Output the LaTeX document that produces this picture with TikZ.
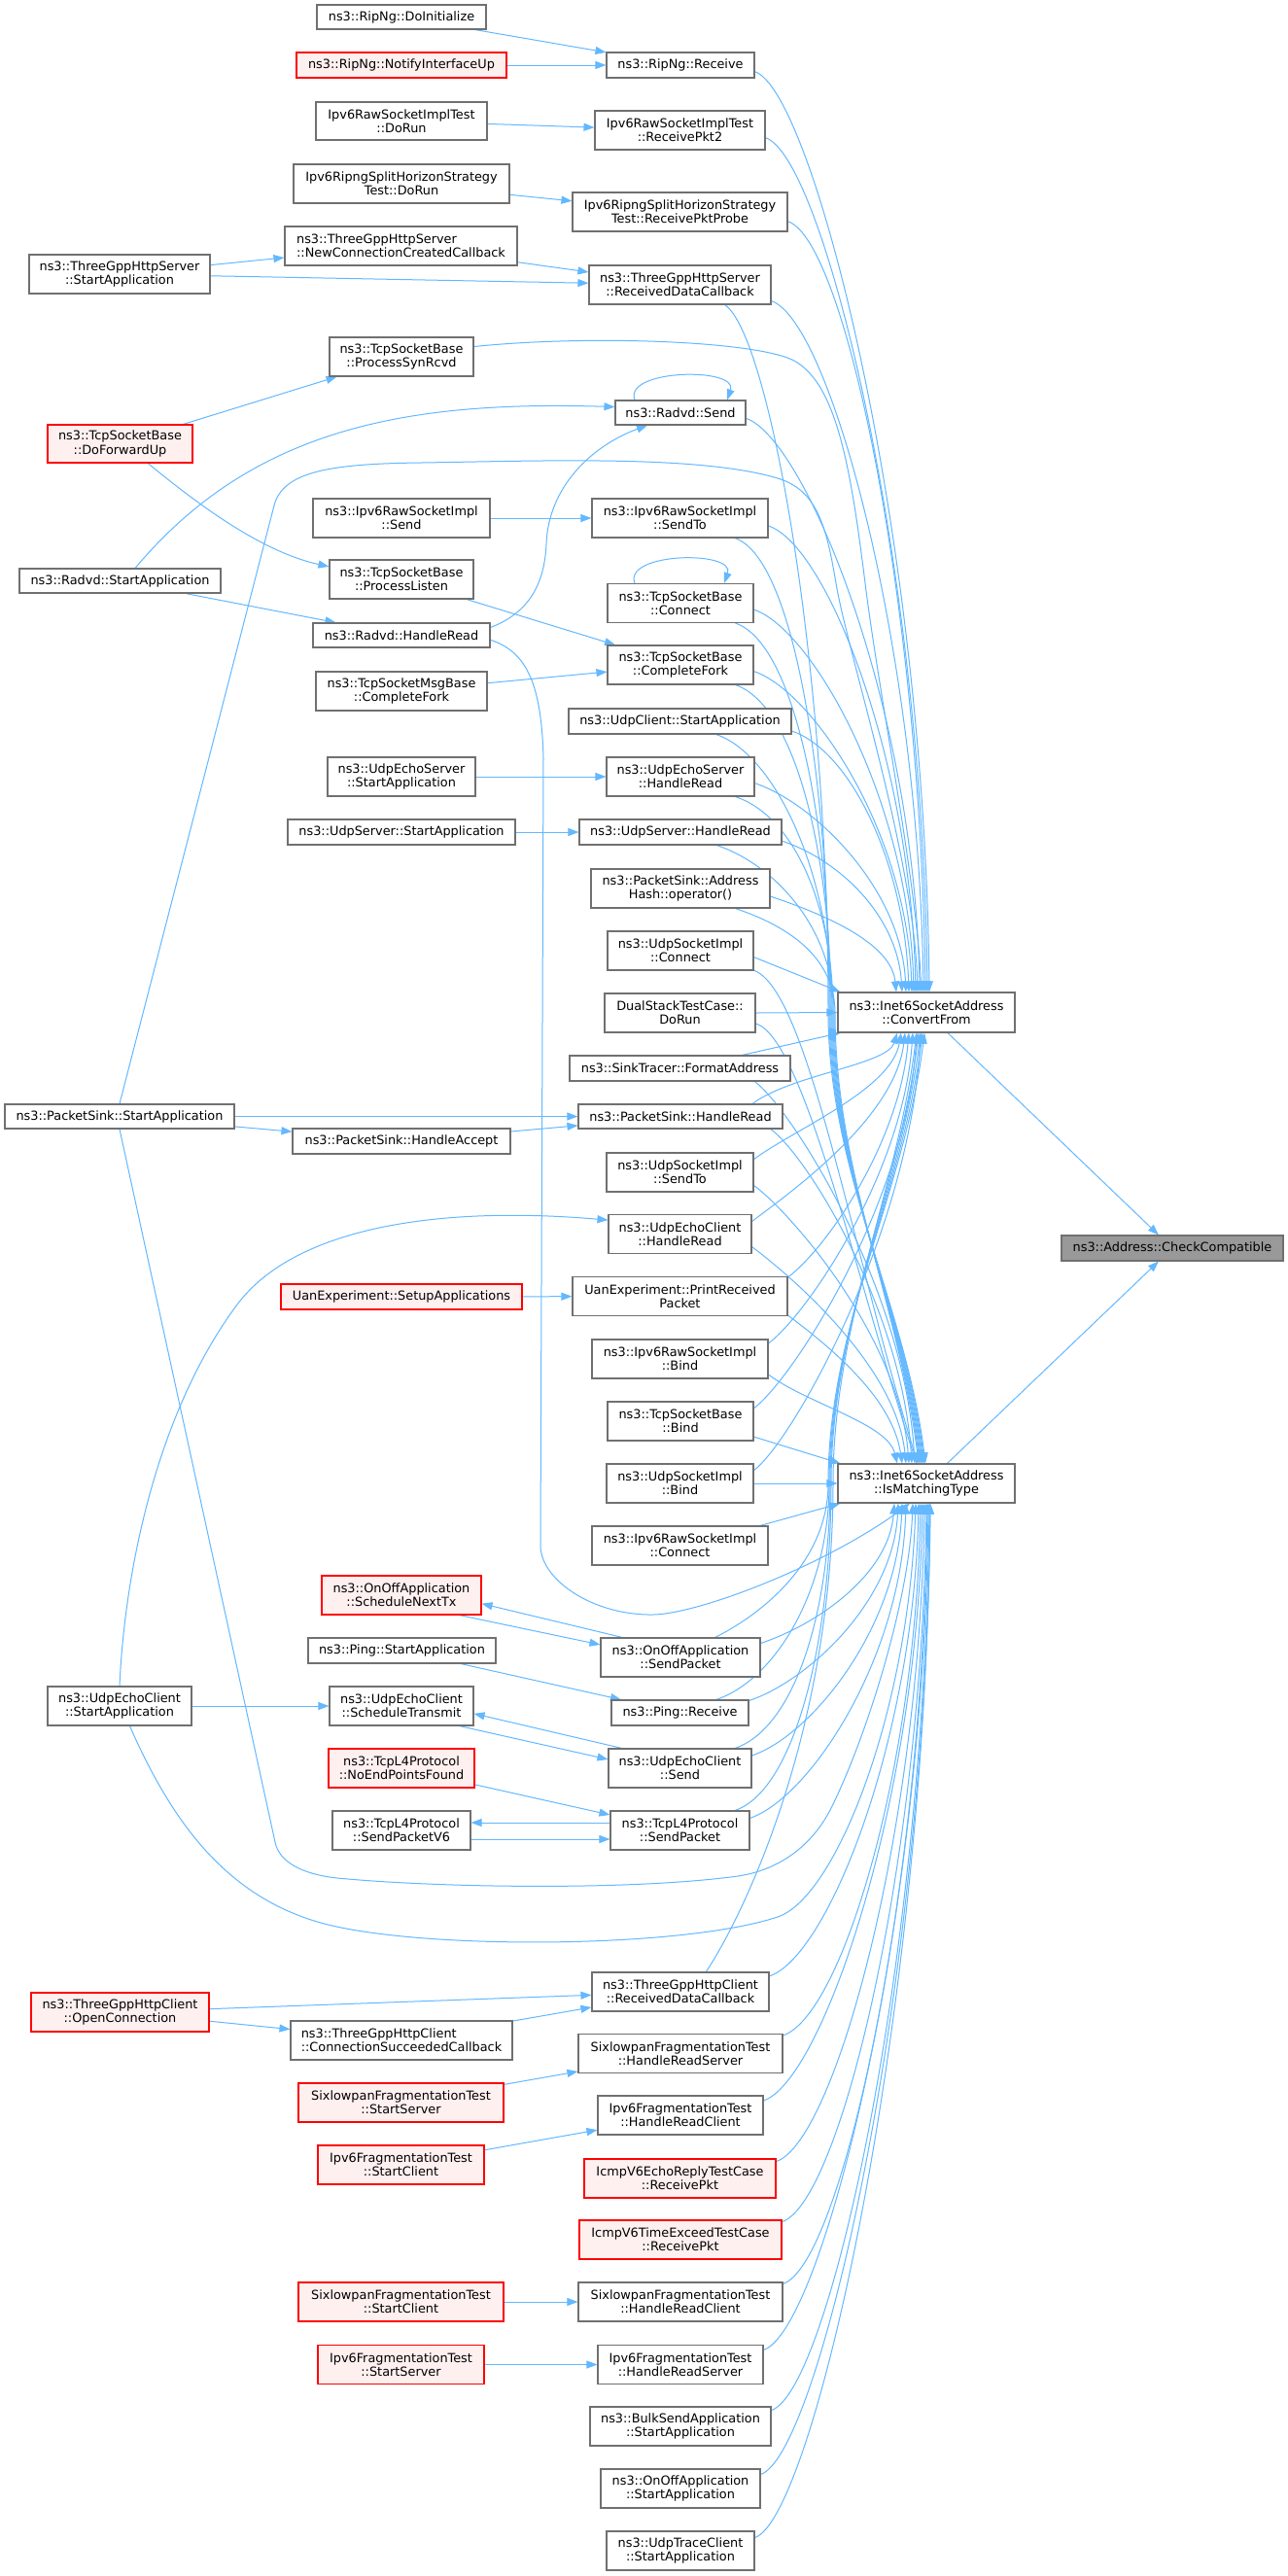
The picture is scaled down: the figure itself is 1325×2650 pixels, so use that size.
\documentclass[tikz,border=0pt]{standalone}
\usepackage{fontspec}
\setmainfont{DejaVu Sans}
\usetikzlibrary{arrows.meta,calc}
\definecolor{edgec}{HTML}{63B8FF}
\definecolor{bordc}{HTML}{707070}
\definecolor{redfill}{HTML}{FFF0F0}
\definecolor{redbord}{HTML}{FF0000}
\definecolor{grayfill}{HTML}{999999}
\pgfdeclarelayer{bglayer}
\pgfdeclarelayer{edgelayer}
\pgfsetlayers{bglayer,edgelayer,main}
\newcommand\dfont{\fontsize{12.85}{14.2}\selectfont}
% curved edge: src, tgt, c1 dx, c1 dy (+down), c2 left shift, vertical factor
\newcommand\ecur[6]{\draw[ce] let \p1=(#1), \p2=(#2), \n1={(#6)*(\y1-\y2)} in (\p1) .. controls ({\x1+(#3)*1pt},{\y1-(#4)*1pt}) and ({\x2-(#5)*1pt},{\y2+(\n1)*1pt}) .. (\p2);}
% edge through a waypoint: src, waypoint, tgt, c1 dx, c1 dy, factor, left shift
\newcommand\evia[7]{\draw[ce] let \p1=(#1), \p2=(#2), \p3=(#3), \n1={0.5*(\y1-\y2)}, \n2={(#6)*(\y2-\y3)} in (\p1) .. controls ({\x1+(#4)*1pt},{\y1-(#5)*1pt}) and ({\x2},{\y2+(\n1)*1pt}) .. (\p2) .. controls ({\x2},{\y2-(\n2)*1pt}) and ({\x3-(#7)*1pt},{\y3+(\n2)*1pt}) .. (\p3);}
\tikzset{
  nbox/.style={draw=bordc, fill=white, line width=1.1pt, inner sep=0pt, align=center, font=\dfont, text=black},
  rbox/.style={nbox, draw=redbord, fill=redfill},
  gbox/.style={nbox, fill=grayfill},
  sz/.style 2 args={minimum width=#1, minimum height=#2},
  ce/.style={draw=edgec, line width=1pt, -{Triangle[length=11pt,width=8pt]}},
}
\begin{document}
\begin{tikzpicture}[x=1pt,y=-1pt]
\begin{pgfonlayer}{bglayer}
\fill[white] (0,0) rectangle (1325,2650);
\end{pgfonlayer}
\useasboundingbox (0,0) rectangle (1325,2650);
% ---------------- nodes ----------------
\node[nbox,sz={174}{25}] (rinit) at (413,17.5) {ns3::RipNg::DoInitialize};
\node[rbox,sz={216}{26}] (rnotify) at (413,67) {ns3::RipNg::NotifyInterfaceUp};
\node[nbox,sz={152}{26}] (rrecv) at (700,67) {ns3::RipNg::Receive};
\node[nbox,sz={176}{39}] (rtestrun) at (413,124.5) {Ipv6RawSocketImplTest\\::DoRun};
\node[nbox,sz={175}{40}] (rp2) at (699.5,134) {Ipv6RawSocketImplTest\\::ReceivePkt2};
\node[nbox,sz={222}{40}] (rsplit) at (413,189) {Ipv6RipngSplitHorizonStrategy\\Test::DoRun};
\node[nbox,sz={221}{40}] (rpp) at (699.5,218) {Ipv6RipngSplitHorizonStrategy\\Test::ReceivePktProbe};
\node[nbox,sz={186}{40}] (sstart) at (123,282) {ns3::ThreeGppHttpServer\\::StartApplication};
\node[nbox,sz={239}{40},align=left] (sncc) at (412.5,253) {ns3::ThreeGppHttpServer\\::NewConnectionCreatedCallback};
\node[nbox,sz={187}{40}] (srdc) at (699.5,293) {ns3::ThreeGppHttpServer\\::ReceivedDataCallback};
\node[nbox,sz={148}{40}] (psr) at (413,367) {ns3::TcpSocketBase\\::ProcessSynRcvd};
\node[nbox,sz={134}{25}] (rsend) at (700,424.5) {ns3::Radvd::Send};
\node[rbox,sz={149}{39}] (dfu) at (123.5,456.5) {ns3::TcpSocketBase\\::DoForwardUp};
\node[nbox,sz={182}{40}] (rawsend) at (413,533) {ns3::Ipv6RawSocketImpl\\::Send};
\node[nbox,sz={181}{40}] (sendto) at (699.5,533) {ns3::Ipv6RawSocketImpl\\::SendTo};
\node[nbox,sz={207}{25}] (radstart) at (123.5,597.5) {ns3::Radvd::StartApplication};
\node[nbox,sz={148}{40}] (plisten) at (413,596) {ns3::TcpSocketBase\\::ProcessListen};
\node[nbox,sz={150}{40}] (tconn) at (700,620.5) {ns3::TcpSocketBase\\::Connect};
\node[nbox,sz={182}{25}] (rhr) at (413,653.5) {ns3::Radvd::HandleRead};
\node[nbox,sz={150}{40}] (cfork) at (700,684) {ns3::TcpSocketBase\\::CompleteFork};
\node[nbox,sz={176}{40}] (msgfork) at (413,711) {ns3::TcpSocketMsgBase\\::CompleteFork};
\node[nbox,sz={229}{26}] (uclient) at (699.5,742) {ns3::UdpClient::StartApplication};
\node[nbox,sz={152}{40}] (uesstart) at (413,799) {ns3::UdpEchoServer\\::StartApplication};
\node[nbox,sz={152}{40}] (uesh) at (700,799) {ns3::UdpEchoServer\\::HandleRead};
\node[nbox,sz={234}{26}] (usstart) at (413,856) {ns3::UdpServer::StartApplication};
\node[nbox,sz={208}{26}] (ushr) at (700,856) {ns3::UdpServer::HandleRead};
\node[nbox,sz={184}{40}] (ahash) at (700,914) {ns3::PacketSink::Address\\Hash::operator()};
\node[nbox,sz={150}{40}] (uconn) at (700,978) {ns3::UdpSocketImpl\\::Connect};
\node[nbox,sz={155}{40}] (dual) at (699.5,1042) {DualStackTestCase::\\DoRun};
\node[nbox,sz={227}{26}] (sink) at (699.5,1099) {ns3::SinkTracer::FormatAddress};
\node[nbox,sz={236}{25}] (psstart) at (123,1148.5) {ns3::PacketSink::StartApplication};
\node[nbox,sz={210}{25}] (pshr) at (700,1148.5) {ns3::PacketSink::HandleRead};
\node[nbox,sz={224}{26}] (pshacc) at (413,1174) {ns3::PacketSink::HandleAccept};
\node[nbox,sz={151}{40}] (usendto) at (699.5,1206) {ns3::UdpSocketImpl\\::SendTo};
\node[nbox,sz={147}{40}] (uechr) at (699.5,1269.5) {ns3::UdpEchoClient\\::HandleRead};
\node[rbox,sz={248}{26}] (uansetup) at (413,1334) {UanExperiment::SetupApplications};
\node[nbox,sz={221}{40}] (uanpr) at (699.5,1333.5) {UanExperiment::PrintReceived\\Packet};
\node[nbox,sz={181}{40}] (rbind) at (699.5,1398) {ns3::Ipv6RawSocketImpl\\::Bind};
\node[nbox,sz={150}{40}] (tbind) at (700,1462) {ns3::TcpSocketBase\\::Bind};
\node[nbox,sz={151}{40}] (ubind) at (699.5,1526) {ns3::UdpSocketImpl\\::Bind};
\node[nbox,sz={181}{40}] (rconn) at (699.5,1590) {ns3::Ipv6RawSocketImpl\\::Connect};
\node[rbox,sz={164}{40}] (ontx) at (413,1641) {ns3::OnOffApplication\\::ScheduleNextTx};
\node[nbox,sz={164}{40}] (onsend) at (700,1705) {ns3::OnOffApplication\\::SendPacket};
\node[nbox,sz={193}{26}] (pingstart) at (413.5,1698) {ns3::Ping::StartApplication};
\node[nbox,sz={141}{26}] (pingr) at (699.5,1762) {ns3::Ping::Receive};
\node[nbox,sz={148}{40}] (uecstart) at (123,1755) {ns3::UdpEchoClient\\::StartApplication};
\node[nbox,sz={148}{40}] (uectx) at (413,1755) {ns3::UdpEchoClient\\::ScheduleTransmit};
\node[rbox,sz={150}{40}] (tl4nep) at (413,1819) {ns3::TcpL4Protocol\\::NoEndPointsFound};
\node[nbox,sz={147}{40}] (uecsend) at (699.5,1819) {ns3::UdpEchoClient\\::Send};
\node[nbox,sz={142}{40}] (tl4v6) at (413,1883) {ns3::TcpL4Protocol\\::SendPacketV6};
\node[nbox,sz={143}{40}] (tl4send) at (699.5,1883) {ns3::TcpL4Protocol\\::SendPacket};
\node[nbox,sz={182}{40}] (crdc) at (700,2049) {ns3::ThreeGppHttpClient\\::ReceivedDataCallback};
\node[rbox,sz={183}{40}] (copen) at (123.5,2070) {ns3::ThreeGppHttpClient\\::OpenConnection};
\node[nbox,sz={228}{40},align=left] (csucc) at (413,2099) {ns3::ThreeGppHttpClient\\::ConnectionSucceededCallback};
\node[nbox,sz={210}{40}] (sfhrs) at (700,2112.5) {SixlowpanFragmentationTest\\::HandleReadServer};
\node[rbox,sz={211}{40}] (sfss) at (412.5,2163) {SixlowpanFragmentationTest\\::StartServer};
\node[nbox,sz={170}{40}] (ifhrc) at (700,2176) {Ipv6FragmentationTest\\::HandleReadClient};
\node[rbox,sz={171}{40}] (ifsc) at (412.5,2227) {Ipv6FragmentationTest\\::StartClient};
\node[rbox,sz={197}{40}] (icmpe) at (699.5,2241) {IcmpV6EchoReplyTestCase\\::ReceivePkt};
\node[rbox,sz={208}{40}] (icmpt) at (700,2304) {IcmpV6TimeExceedTestCase\\::ReceivePkt};
\node[rbox,sz={211}{40}] (sfsc) at (412.5,2368) {SixlowpanFragmentationTest\\::StartClient};
\node[nbox,sz={210}{40}] (sfhrc) at (700,2368) {SixlowpanFragmentationTest\\::HandleReadClient};
\node[rbox,sz={171}{40}] (ifss) at (412.5,2432.5) {Ipv6FragmentationTest\\::StartServer};
\node[nbox,sz={170}{40}] (ifhrs) at (700,2432.5) {Ipv6FragmentationTest\\::HandleReadServer};
\node[nbox,sz={186}{40}] (bulk) at (700,2496) {ns3::BulkSendApplication\\::StartApplication};
\node[nbox,sz={164}{40}] (onstart) at (700,2560) {ns3::OnOffApplication\\::StartApplication};
\node[nbox,sz={152}{40}] (utrace) at (700,2624) {ns3::UdpTraceClient\\::StartApplication};
\node[nbox,sz={182}{41}] (cf) at (953,1041.5) {ns3::Inet6SocketAddress\\::ConvertFrom};
\node[nbox,sz={182}{40}] (imt) at (953,1526) {ns3::Inet6SocketAddress\\::IsMatchingType};
\node[gbox,sz={228}{26}] (cc) at (1206,1284) {ns3::Address::CheckCompatible};
% waypoints beside the two targets
\coordinate (wB1) at (852,1042);
\coordinate (wB2) at (853,1042);
\coordinate (wB3) at (854,1042);
\coordinate (wB4) at (855,1042);
\coordinate (wB5) at (856,1042);
\coordinate (wB6) at (857,1042);
\coordinate (wB7) at (858,1042);
\coordinate (wB8) at (859,1042);
\coordinate (wF1) at (852,1526);
\coordinate (wF2) at (853,1526);
\coordinate (wF3) at (854,1526);
\coordinate (wF4) at (855,1526);
\coordinate (wF5) at (857,1526);
% ---------------- edges ----------------
\begin{pgfonlayer}{edgelayer}
\draw[ce] (rinit) -- (rrecv);
\draw[ce] (rnotify) -- (rrecv);
\draw[ce] (rtestrun) -- (rp2);
\draw[ce] (rsplit) -- (rpp);
\draw[ce] (sstart) -- (sncc);
\draw[ce] (sstart) -- (srdc);
\draw[ce] (sncc) -- (srdc);
\draw[ce] (dfu) -- (psr);
\draw[ce] (dfu.-35) .. controls (205,520) and (270,568) .. (plisten.170);
\draw[ce] (radstart.40) .. controls (260,440) and (420,412) .. (rsend.175);
\draw[ce] (radstart) -- (rhr);
\draw[ce] (plisten) -- (cfork);
\draw[ce] (rhr.5) .. controls (545,630) and (560,600) .. (562,560) .. controls (564,500) and (610,458) .. (rsend.-159);
\draw[ce] ($(rsend.north)+(-47,0)$) .. controls +(-12,-32) and +(12,-34) .. ($(rsend.north)+(48,0)$);
\draw[ce] ($(tconn.north)+(-47,0)$) .. controls +(-12,-32) and +(12,-34) .. ($(tconn.north)+(45,0)$);
\draw[ce] (rawsend) -- (sendto);
\draw[ce] (msgfork) -- (cfork);
\draw[ce] (uesstart) -- (uesh);
\draw[ce] (usstart) -- (ushr);
\draw[ce] (psstart) -- (pshr);
\draw[ce] (psstart) -- (pshacc);
\draw[ce] (pshacc) -- (pshr);
\draw[ce] (uecstart.north) .. controls (128,1620) and (160,1455) .. (244,1342) .. controls (303,1263) and (450,1240) .. (uechr.169);
\draw[ce] (uansetup) -- (uanpr);
\draw[ce] (onsend.161) -- (ontx.-6);
\draw[ce] (ontx.-19) -- (onsend.171);
\draw[ce] (pingstart) -- (pingr);
\draw[ce] (uecstart) -- (uectx);
\draw[ce] (uecsend.161) -- (uectx.-6);
\draw[ce] (uectx.-19) -- (uecsend.173);
\draw[ce] (tl4nep) -- (tl4send);
\draw[ce] ($(tl4send.west)+(0,-8)$) -- ($(tl4v6.east)+(0,-8)$);
\draw[ce] ($(tl4v6.east)+(0,9)$) -- ($(tl4send.west)+(0,9)$);
\draw[ce] (copen) -- (crdc);
\draw[ce] (copen) -- (csucc);
\draw[ce] (csucc) -- (crdc);
\draw[ce] (sfss) -- (sfhrs);
\draw[ce] (ifsc) -- (ifhrc);
\draw[ce] (sfsc) -- (sfhrc);
\draw[ce] (ifss) -- (ifhrs);
\draw[ce] (cf) -- (cc);
\draw[ce] (imt) -- (cc);
% --- to ConvertFrom, from above
\ecur{rrecv.-5}{$(cf.north)+(3,0)$}{60}{20}{5}{0.5}
\ecur{rp2.-5}{$(cf.north)+(1,0)$}{60}{20}{5}{0.5}
\ecur{rpp.-5}{$(cf.north)+(-1,0)$}{60}{20}{5}{0.5}
\ecur{srdc.-10}{$(cf.north)+(-3,0)$}{60}{20}{5}{0.5}
\draw[ce] (psr.8) .. controls (600,345) and (760,350) .. (810,368) .. controls (860,386) and (875,480) .. (890,600) .. controls (905,720) and (942,900) .. ($(cf.north)+(-5,0)$);
\ecur{rsend.-5}{$(cf.north)+(-7,0)$}{60}{20}{5}{0.5}
\draw[ce] (psstart.north) -- (282,520) .. controls (291,485) and (340,477) .. (434,476) .. controls (560,474) and (720,468) .. (800,492) .. controls (840,504) and (850,540) .. (860,600) .. controls (872,672) and (940,880) .. ($(cf.north)+(-9,0)$);
\ecur{sendto.-5}{$(cf.north)+(-11,0)$}{60}{20}{5}{0.5}
\ecur{tconn.-5}{$(cf.north)+(-13,0)$}{60}{20}{5}{0.5}
\ecur{cfork.-5}{$(cf.north)+(-15,0)$}{60}{20}{5}{0.5}
\ecur{uclient.-5}{$(cf.north)+(-18,0)$}{60}{20}{5}{0.5}
\ecur{uesh.-5}{$(cf.north)+(-21,0)$}{60}{20}{5}{0.5}
\ecur{ushr.-5}{$(cf.north)+(-25,0)$}{60}{20}{5}{0.5}
\ecur{ahash.-5}{$(cf.north)+(-31,0)$}{60}{20}{5}{0.5}
\draw[ce] (uconn.-5) -- ($(cf.north west)+(3,0)$);
\draw[ce] (dual.east) -- (cf.west);
% --- to IsMatchingType, from above (passing left of ConvertFrom)
\evia{srdc.-24}{wB1}{$(imt.north)+(-1,0)$}{45}{30}{0.35}{20}
\evia{sendto.-20}{wB2}{$(imt.north)+(-2,0)$}{60}{20}{0.35}{20}
\evia{tconn.-20}{wB3}{$(imt.north)+(-3,0)$}{60}{20}{0.35}{20}
\evia{cfork.-20}{wB4}{$(imt.north)+(-4,0)$}{60}{20}{0.35}{20}
\evia{uclient.-20}{wB5}{$(imt.north)+(-5,0)$}{60}{20}{0.35}{20}
\evia{uesh.-20}{wB6}{$(imt.north)+(-6,0)$}{60}{20}{0.35}{20}
\evia{ushr.-20}{wB7}{$(imt.north)+(-7,0)$}{60}{20}{0.35}{20}
\evia{ahash.-20}{wB8}{$(imt.north)+(-8,0)$}{60}{20}{0.35}{20}
\ecur{uconn.-15}{$(imt.north)+(-9,0)$}{55}{20}{70}{0.45}
\ecur{dual.-8}{$(imt.north)+(-10,0)$}{50}{15}{60}{0.4}
% --- between the targets: up to ConvertFrom
\draw[ce] (sink.12) -- ($(cf.south west)+(3,0)$);
\ecur{pshr.10}{$(cf.south)+(-30,0)$}{40}{-30}{10}{0.45}
\ecur{usendto.10}{$(cf.south)+(-26,0)$}{40}{-30}{10}{0.45}
\ecur{uechr.10}{$(cf.south)+(-22,0)$}{40}{-30}{10}{0.45}
\ecur{uanpr.10}{$(cf.south)+(-18,0)$}{40}{-30}{10}{0.45}
\ecur{rbind.10}{$(cf.south)+(-14,0)$}{40}{-30}{10}{0.45}
\ecur{tbind.10}{$(cf.south)+(-10,0)$}{40}{-30}{10}{0.45}
\ecur{ubind.10}{$(cf.south)+(-6,0)$}{40}{-30}{10}{0.45}
% --- between the targets: down to IsMatchingType
\ecur{sink.-10}{$(imt.north)+(-12,0)$}{40}{30}{10}{0.45}
\ecur{pshr.-8}{$(imt.north)+(-15,0)$}{40}{30}{10}{0.45}
\ecur{usendto.-10}{$(imt.north)+(-18,0)$}{40}{30}{10}{0.45}
\ecur{uechr.-10}{$(imt.north)+(-21,0)$}{40}{30}{10}{0.45}
\ecur{uanpr.-10}{$(imt.north)+(-25,0)$}{40}{30}{10}{0.45}
\ecur{rbind.-10}{$(imt.north)+(-30,0)$}{40}{30}{10}{0.45}
\draw[ce] (tbind.-12) -- ($(imt.north west)+(3,0)$);
\draw[ce] (ubind.east) -- (imt.west);
% --- from below: up to IsMatchingType
\draw[ce] (rconn.14) -- ($(imt.south west)+(3,0)$);
\ecur{onsend.10}{$(imt.south)+(-33,0)$}{60}{-20}{5}{0.5}
\ecur{pingr.10}{$(imt.south)+(-29,0)$}{60}{-20}{5}{0.5}
\ecur{uecsend.10}{$(imt.south)+(-25,0)$}{60}{-20}{5}{0.5}
\ecur{tl4send.10}{$(imt.south)+(-21,0)$}{60}{-20}{5}{0.5}
\draw[ce] (rhr.-3) .. controls (540,670) and (557,700) .. (559,780) -- (556,1590) .. controls (556,1625) and (610,1662) .. (672,1661) .. controls (720,1660) and (850,1610) .. ($(imt.south)+(-17,0)$);
\draw[ce] (psstart.south) -- (283,1895) .. controls (287,1915) and (310,1928) .. (347,1932) .. controls (450,1942) and (650,1945) .. (759,1930) .. controls (800,1924) and (835,1900) .. (855,1860) .. controls (890,1790) and (935,1650) .. ($(imt.south)+(-14,0)$);
\draw[ce] (uecstart.-63) .. controls (175,1870) and (230,1950) .. (330,1978) .. controls (430,2006) and (700,2005) .. (800,1972) .. controls (860,1952) and (935,1760) .. ($(imt.south)+(-11,0)$);
\ecur{crdc.10}{$(imt.south)+(-8,0)$}{60}{-20}{5}{0.5}
\ecur{sfhrs.10}{$(imt.south)+(-6,0)$}{60}{-20}{5}{0.5}
\ecur{ifhrc.10}{$(imt.south)+(-4,0)$}{60}{-20}{5}{0.5}
\ecur{icmpe.10}{$(imt.south)+(-2,0)$}{60}{-20}{5}{0.5}
\ecur{icmpt.10}{$(imt.south)+(0,0)$}{60}{-20}{5}{0.5}
\ecur{sfhrc.10}{$(imt.south)+(1,0)$}{60}{-20}{5}{0.5}
\ecur{ifhrs.10}{$(imt.south)+(2,0)$}{60}{-20}{5}{0.5}
\ecur{bulk.10}{$(imt.south)+(3,0)$}{60}{-20}{5}{0.5}
\ecur{onstart.10}{$(imt.south)+(4,0)$}{60}{-20}{5}{0.5}
\ecur{utrace.10}{$(imt.south)+(4,0)$}{60}{-20}{5}{0.5}
% --- from below: up to ConvertFrom (passing left of IsMatchingType)
\evia{onsend.30}{wF1}{$(cf.south)+(-2,0)$}{50}{-25}{0.35}{20}
\evia{pingr.20}{wF2}{$(cf.south)+(-4,0)$}{60}{-20}{0.35}{20}
\evia{uecsend.20}{wF3}{$(cf.south)+(-6,0)$}{60}{-20}{0.35}{20}
\evia{tl4send.20}{wF4}{$(cf.south)+(-8,0)$}{60}{-20}{0.35}{20}
\evia{crdc.38}{wF5}{$(cf.south)+(-10,0)$}{40}{-60}{0.35}{20}
\end{pgfonlayer}
\end{tikzpicture}
\end{document}
